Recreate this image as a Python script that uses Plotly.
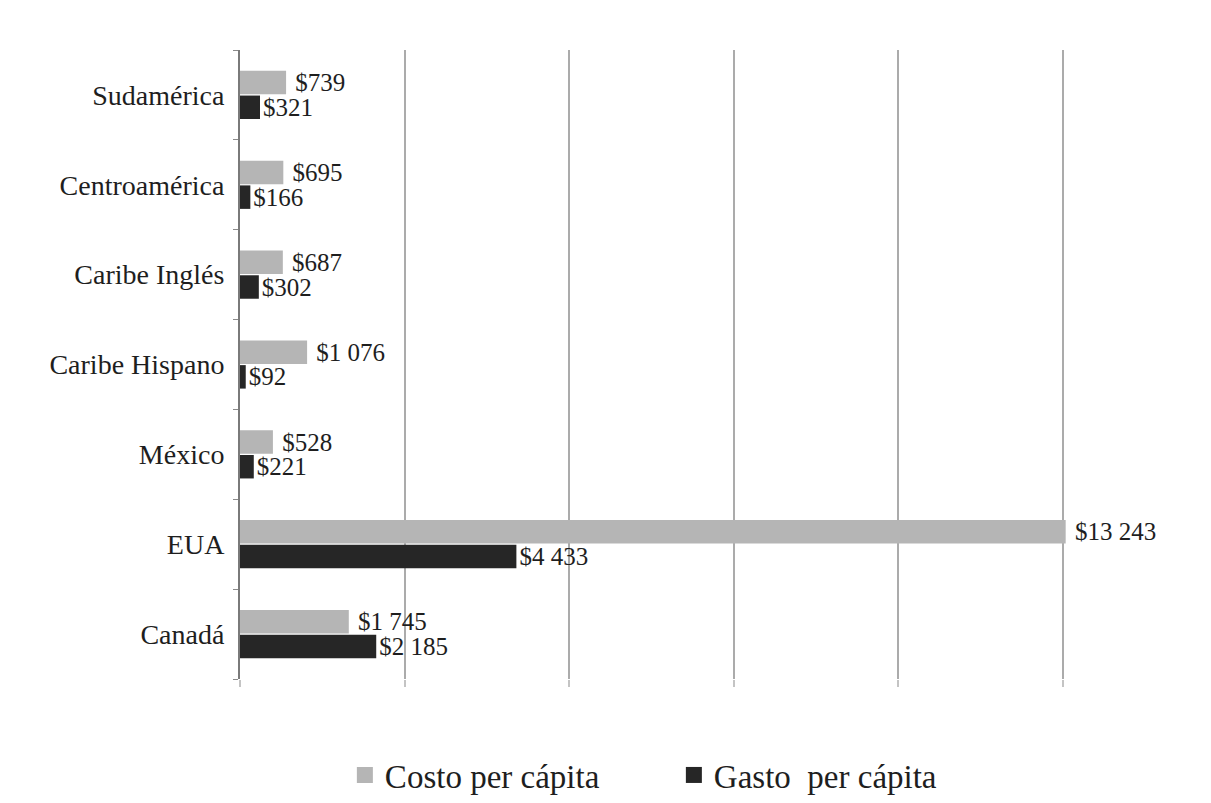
import plotly.graph_objects as go

# Regiones (de abajo hacia arriba en el eje)
regiones = ["Canadá", "EUA", "México", "Caribe Hispano",
            "Caribe Inglés", "Centroamérica", "Sudamérica"]
costo_per_capita = [1745, 13243, 528, 1076, 687, 695, 739]
gasto_per_capita = [2185, 4433, 221, 92, 302, 166, 321]

# Divisiones verticales de referencia (sin etiquetas)
paso_rejilla = 2640
marcas_x = [paso_rejilla * k for k in range(0, 6)]

COLOR_COSTO = "#b5b5b5"
COLOR_GASTO = "#262626"
serif = "Liberation Serif"


def etiqueta(v, sangria=""):
    return sangria + "$" + f"{v:,}".replace(",", " ")


fig = go.Figure()
fig.add_trace(go.Bar(
    y=regiones, x=gasto_per_capita, orientation="h",
    name="Gasto  per cápita", showlegend=False,
    marker=dict(color=COLOR_GASTO, line=dict(width=0)),
    text=[etiqueta(v) for v in gasto_per_capita],
    textposition="outside", constraintext="none", cliponaxis=False,
    textfont=dict(family=serif, size=25, color="#1e1e1e"),
))
fig.add_trace(go.Bar(
    y=regiones, x=costo_per_capita, orientation="h",
    name="Costo per cápita", showlegend=False,
    marker=dict(color=COLOR_COSTO, line=dict(width=0)),
    text=[etiqueta(v, " ") for v in costo_per_capita],
    textposition="outside", constraintext="none", cliponaxis=False,
    textfont=dict(family=serif, size=25, color="#1e1e1e"),
))

# Entradas de leyenda con cuadros más grandes
for nombre, color in [("Costo per cápita", COLOR_COSTO),
                      ("Gasto  per cápita", COLOR_GASTO)]:
    fig.add_trace(go.Scatter(
        x=[None], y=[None], mode="markers", name=nombre,
        marker=dict(symbol="square", size=26, color=color),
        showlegend=True,
    ))

ancho_area = 1211 - 240
rango_max = ancho_area / 823 * (paso_rejilla * 5)

fig.update_layout(
    width=1211, height=803,
    margin=dict(l=240, r=0, t=50, b=118),
    paper_bgcolor="white", plot_bgcolor="white",
    barmode="group", bargap=0.45, bargroupgap=0.05,
    font=dict(family=serif, size=28, color="#1e1e1e"),
    legend=dict(orientation="h", x=0.108, xanchor="left",
                y=-0.153, yanchor="middle",
                font=dict(family=serif, size=33, color="#1e1e1e"),
                itemwidth=30, itemsizing="trace", traceorder="normal",
                entrywidth=284, entrywidthmode="pixels"),
    xaxis=dict(range=[0, rango_max], tickmode="array", tickvals=marcas_x,
               showticklabels=False, showgrid=True, gridcolor="#ababab",
               gridwidth=2, zeroline=False, showline=False,
               ticks="outside", ticklen=7, tickwidth=2, tickcolor="#c4c4c4"),
    yaxis=dict(showline=True, linecolor="#7a7a7a", linewidth=2,
               ticks="outside", ticklen=5, tickwidth=1, tickcolor="#8a8a8a",
               tickson="boundaries", showgrid=False, zeroline=False,
               ticklabelstandoff=8,
               tickfont=dict(family=serif, size=28, color="#1e1e1e")),
)

fig.write_html("out.html")
